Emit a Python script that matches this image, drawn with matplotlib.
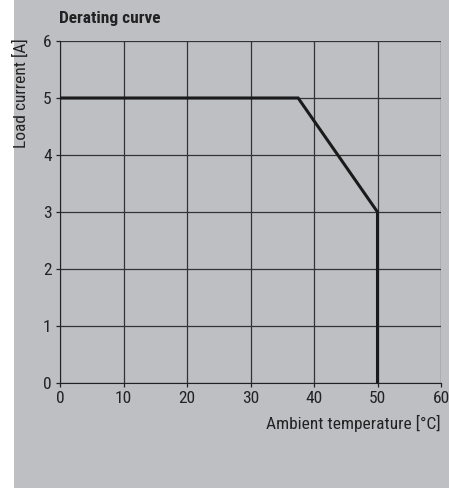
import matplotlib
matplotlib.use("Agg")
import matplotlib.pyplot as plt
from matplotlib.patches import Rectangle
from matplotlib import font_manager

temps = [0, 37.5, 50, 50]
currents = [5, 5, 3, 0]
xticks = [0, 10, 20, 30, 40, 50, 60]
yticks = [0, 1, 2, 3, 4, 5, 6]
title = "Derating curve"
xlabel = "Ambient temperature [°C]"
ylabel = "Load current [A]"

names = {f.name for f in font_manager.fontManager.ttflist}
fam = []
for cand in ["Roboto Condensed", "Asap Condensed", "Barlow Semi Condensed", "Archivo Narrow"]:
    if cand in names:
        fam = [cand]
        break
plt.rcParams['font.family'] = fam + ["DejaVu Sans"]

W, H = 449, 488
bg = "#bebfc3"
fig = plt.figure(figsize=(W/100, H/100), dpi=100)
fig.patch.set_facecolor("white")
fig.patches.append(Rectangle((14/W, 0), 1 - 14/W, 1, transform=fig.transFigure,
                             facecolor=bg, edgecolor="none", zorder=-10))

x0, x1 = 60, 441
y0, y1 = 383, 41
ax = fig.add_axes([x0/W, 1 - y0/H, (x1-x0)/W, (y0-y1)/H])
ax.set_facecolor(bg)
ax.set_xlim(0, 60)
ax.set_ylim(0, 6)
ax.set_xticks(xticks)
ax.set_yticks(yticks)
ax.grid(True, color="#333333", linewidth=0.9)
ax.set_axisbelow(True)
for s in ax.spines.values():
    s.set_visible(False)
ax.spines['left'].set_visible(True)
ax.spines['bottom'].set_visible(True)
ax.spines['left'].set_color("#222222")
ax.spines['bottom'].set_color("#222222")
ax.tick_params(length=3, width=0.9, color="#222222", labelsize=12.5, labelcolor="#222222", pad=3)
ax.plot(temps, currents, color="#1a1a1a", linewidth=2.2, solid_joinstyle="miter", zorder=5)

fig.text(59/W, 1 - 19/H, title, fontsize=12.5, fontweight="bold", color="#222222",
         ha="left", va="center")
fig.text(441/W, 1 - 423/H, xlabel, fontsize=12.5, color="#222222", ha="right", va="center")
fig.text(21/W, 1 - 38/H, ylabel, fontsize=12.5, color="#222222", ha="center", va="top", rotation=90)

fig.savefig("out.png", dpi=100, facecolor=fig.get_facecolor())
